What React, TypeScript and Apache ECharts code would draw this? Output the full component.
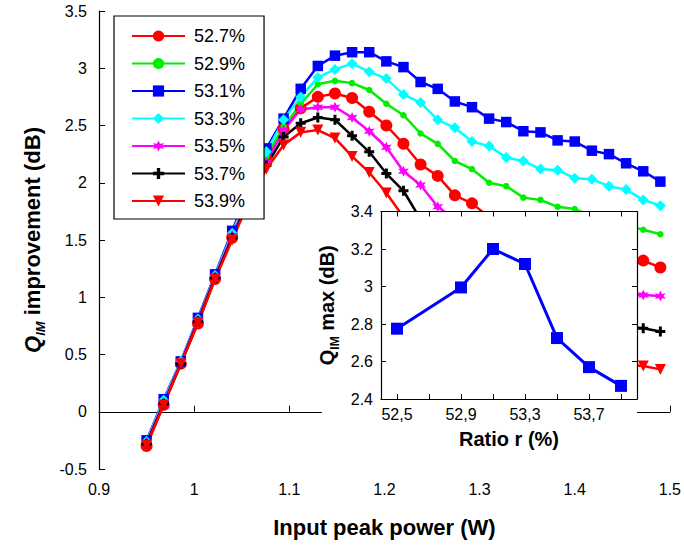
import React, { useEffect, useRef } from "react";
import * as echarts from "echarts";

// ---------- data ----------
const powerW = [
  0.95, 0.968, 0.986, 1.004, 1.022, 1.04, 1.058, 1.076, 1.094, 1.112, 1.13,
  1.148, 1.166, 1.184, 1.202, 1.22, 1.238, 1.256, 1.274, 1.292, 1.31, 1.328,
  1.346, 1.364, 1.382, 1.4, 1.418, 1.436, 1.454, 1.472, 1.49,
];

const seriesNames = ["52.7%", "52.9%", "53.1%", "53.3%", "53.5%", "53.7%", "53.9%"];

const r527 = [
  -0.3, 0.06, 0.42, 0.77, 1.16, 1.52, 1.89, 2.2, 2.47, 2.65, 2.75, 2.78, 2.74,
  2.62, 2.5, 2.34, 2.16, 2.06, 1.89, 1.82, 1.7, 1.66, 1.58, 1.54, 1.47, 1.44,
  1.4, 1.37, 1.34, 1.32, 1.26,
];
const r529 = [
  -0.27, 0.09, 0.43, 0.8, 1.18, 1.55, 1.91, 2.23, 2.49, 2.69, 2.86, 2.89, 2.87,
  2.81, 2.69, 2.59, 2.43, 2.34, 2.19, 2.12, 2.0, 1.97, 1.87, 1.85, 1.79, 1.77,
  1.71, 1.68, 1.63, 1.59, 1.55,
];
const r531 = [
  -0.25, 0.11, 0.44, 0.82, 1.2, 1.58, 1.95, 2.3, 2.56, 2.82, 3.02, 3.11, 3.14,
  3.14, 3.06, 3.01, 2.88, 2.82, 2.71, 2.66, 2.56, 2.53, 2.45, 2.44, 2.37, 2.36,
  2.28, 2.25, 2.17, 2.1, 2.01,
];
const r533 = [
  -0.26, 0.1, 0.44, 0.81, 1.19, 1.56, 1.93, 2.27, 2.55, 2.75, 2.92, 2.99, 3.04,
  2.97, 2.91, 2.77, 2.7, 2.55, 2.48, 2.36, 2.32, 2.22, 2.19, 2.12, 2.11, 2.04,
  2.03, 1.97, 1.94, 1.85, 1.8,
];
const r535 = [
  -0.27, 0.08, 0.43, 0.8, 1.18, 1.54, 1.88, 2.18, 2.46, 2.64, 2.66, 2.66, 2.57,
  2.45, 2.31, 2.1, 1.98, 1.79, 1.68, 1.6, 1.5, 1.44, 1.36, 1.3, 1.22, 1.17, 1.11,
  1.06, 1.03, 1.02, 1.01,
];
const r537 = [
  -0.28, 0.07, 0.42, 0.79, 1.17, 1.52, 1.86, 2.15, 2.4, 2.52, 2.57, 2.55, 2.41,
  2.27, 2.08, 1.93, 1.68, 1.58, 1.45, 1.37, 1.26, 1.19, 1.09, 1.03, 0.95, 0.9,
  0.83, 0.79, 0.74, 0.73, 0.7,
];
const r539 = [
  -0.29, 0.06, 0.42, 0.78, 1.16, 1.5, 1.84, 2.12, 2.33, 2.44, 2.46, 2.39, 2.23,
  2.09, 1.91, 1.7, 1.56, 1.42, 1.3, 1.18, 1.06, 0.96, 0.86, 0.78, 0.7, 0.62,
  0.55, 0.48, 0.41, 0.4, 0.37,
];

const mainYTicks = { min: -0.5, max: 3.5, step: 0.5 };
const mainXTicks = { min: 0.9, max: 1.5, step: 0.1 };

// inset
const insetRatio = [52.5, 52.9, 53.1, 53.3, 53.5, 53.7, 53.9];
const insetQmax = [2.775, 2.995, 3.2, 3.12, 2.725, 2.57, 2.47];
const insetTickLabels = [
  "52,4", "52,5", "52,6", "52,7", "52,8", "52,9", "53,0", "53,1", "53,2",
  "53,3", "53,4", "53,5", "53,6", "53,7", "53,8", "53,9", "54,0",
];
const insetY = { min: 2.4, max: 3.4, step: 0.2 };

// ---------- styling ----------
const FONT = "'Liberation Sans', Arial, Helvetica, sans-serif";
const STAR =
  "path://M5,0 L6.2,3 L9.3,2.5 L7.4,5 L9.3,7.5 L6.2,7 L5,10 L3.8,7 L0.7,7.5 L2.6,5 L0.7,2.5 L3.8,3 Z";
const PLUS = "path://M3.5,0 H6.5 V3.5 H10 V6.5 H6.5 V10 H3.5 V6.5 H0 V3.5 H3.5 Z";
const TRI_DOWN = "path://M0,0 L10,0 L5,9 Z";

const seriesStyles = [
  { color: "#ff0000", symbol: "circle", size: 12 },
  { color: "#00ee00", symbol: "circle", size: 6.5 },
  { color: "#0000ff", symbol: "rect", size: 10.5 },
  { color: "#00ffff", symbol: "diamond", size: 11 },
  { color: "#ff00ff", symbol: STAR, size: 11 },
  { color: "#000000", symbol: PLUS, size: 10 },
  { color: "#ff0000", symbol: TRI_DOWN, size: 11 },
];
const seriesValues = [r527, r529, r531, r533, r535, r537, r539];

const fmt1 = (v: number) => String(+Number(v).toFixed(1));

export default function App() {
  const ref = useRef<HTMLDivElement>(null);

  useEffect(() => {
    if (!ref.current) return;
    const chart = echarts.init(ref.current, undefined, { renderer: "svg" });

    const mainSeries = seriesValues.map((vals, k) => ({
      name: seriesNames[k],
      type: "line",
      xAxisIndex: 0,
      yAxisIndex: 0,
      data: powerW.map((x, i) => [x, vals[i]]),
      symbol: seriesStyles[k].symbol,
      symbolSize: seriesStyles[k].size,
      showAllSymbol: true,
      color: seriesStyles[k].color,
      itemStyle: { color: seriesStyles[k].color },
      lineStyle: { color: seriesStyles[k].color, width: 2.5 },
      z: 2,
      clip: false,
    }));

    const axisLineBlack = { show: true, lineStyle: { color: "#000", width: 1.2 } };
    const tickInside = { show: true, inside: true, length: 6, lineStyle: { color: "#000", width: 1 } };
    const labelStyle = { color: "#000", fontSize: 16, fontFamily: FONT };

    const option: any = {
      animation: false,
      backgroundColor: "#fff",
      textStyle: { fontFamily: FONT },
      legend: {
        orient: "vertical",
        left: 114,
        top: 16,
        data: seriesNames,
        itemWidth: 53,
        itemHeight: 14,
        itemGap: 9.5,
        padding: [11, 19, 9, 17],
        backgroundColor: "#fff",
        borderColor: "#000",
        borderWidth: 1.2,
        borderRadius: 0,
        textStyle: { color: "#000", fontSize: 18, fontFamily: FONT, padding: [0, 0, 0, 4], lineHeight: 18 },
        z: 20,
      },
      grid: [
        { left: 99, top: 11, width: 580, height: 458, containLabel: false },
        { left: 381, top: 211.5, width: 256, height: 187.5, containLabel: false },
      ],
      graphic: [
        {
          type: "rect",
          z: 5,
          silent: true,
          shape: { x: 322, y: 211.5, width: 315, height: 242 },
          style: { fill: "#fff" },
        },
      ],
      xAxis: [
        {
          type: "value",
          gridIndex: 0,
          min: mainXTicks.min,
          max: mainXTicks.max,
          interval: mainXTicks.step,
          axisLine: axisLineBlack,
          axisTick: tickInside,
          splitLine: { show: false },
          axisLabel: { ...labelStyle, margin: 12, formatter: fmt1 },
          name: "Input peak power (W)",
          nameLocation: "middle",
          nameGap: 47,
          nameTextStyle: { color: "#000", fontSize: 22, fontWeight: "bold", fontFamily: FONT },
        },
        {
          type: "category",
          gridIndex: 1,
          position: "bottom",
          data: insetTickLabels,
          boundaryGap: false,
          z: 12,
          axisLine: axisLineBlack,
          axisTick: { ...tickInside, length: 5, interval: (i: number) => i % 2 === 1 },
          axisLabel: {
            ...labelStyle,
            margin: 7,
            interval: (i: number) => i % 4 === 1,
          },
          splitLine: { show: false },
          name: "Ratio r (%)",
          nameLocation: "middle",
          nameGap: 30,
          nameTextStyle: { color: "#000", fontSize: 20, fontWeight: "bold", fontFamily: FONT },
        },
        {
          type: "category",
          gridIndex: 1,
          position: "top",
          data: insetTickLabels,
          boundaryGap: false,
          z: 12,
          axisLine: axisLineBlack,
          axisTick: { ...tickInside, length: 5, interval: (i: number) => i % 2 === 1 },
          axisLabel: { show: false },
          splitLine: { show: false },
        },
        {
          type: "value",
          gridIndex: 1,
          position: "bottom",
          min: 52.4,
          max: 54.0,
          show: false,
          splitLine: { show: false },
        },
      ],
      yAxis: [
        {
          type: "value",
          gridIndex: 0,
          min: mainYTicks.min,
          max: mainYTicks.max,
          interval: mainYTicks.step,
          axisLine: axisLineBlack,
          axisTick: tickInside,
          splitLine: { show: false },
          axisLabel: { ...labelStyle, margin: 12, formatter: fmt1 },
          name: "{q|Q}{s|IM}{n| improvement (dB)}",
          nameLocation: "middle",
          nameGap: 52,
          nameTextStyle: {
            color: "#000",
            fontFamily: FONT,
            rich: {
              q: { fontSize: 22, fontWeight: "bold", fontStyle: "italic", fontFamily: FONT, lineHeight: 30, color: "#000" },
              s: { fontSize: 13, fontWeight: "bold", fontStyle: "italic", fontFamily: FONT, lineHeight: 14, verticalAlign: "bottom", color: "#000" },
              n: { fontSize: 22, fontWeight: "bold", fontFamily: FONT, lineHeight: 30, color: "#000" },
            },
          },
        },
        {
          type: "value",
          gridIndex: 1,
          position: "left",
          min: insetY.min,
          max: insetY.max,
          interval: insetY.step,
          z: 12,
          axisLine: axisLineBlack,
          axisTick: { ...tickInside, length: 5 },
          splitLine: { show: false },
          axisLabel: { ...labelStyle, margin: 8, formatter: fmt1 },
          name: "{q|Q}{s|IM}{n| max (dB)}",
          nameLocation: "middle",
          nameGap: 40,
          nameTextStyle: {
            color: "#000",
            fontFamily: FONT,
            rich: {
              q: { fontSize: 20, fontWeight: "bold", fontFamily: FONT, lineHeight: 28, color: "#000" },
              s: { fontSize: 12, fontWeight: "bold", fontFamily: FONT, lineHeight: 13, verticalAlign: "bottom", color: "#000" },
              n: { fontSize: 20, fontWeight: "bold", fontFamily: FONT, lineHeight: 28, color: "#000" },
            },
          },
        },
        {
          type: "value",
          gridIndex: 1,
          position: "right",
          min: insetY.min,
          max: insetY.max,
          interval: insetY.step,
          z: 12,
          axisLine: axisLineBlack,
          axisTick: { ...tickInside, length: 5 },
          splitLine: { show: false },
          axisLabel: { show: false },
        },
      ],
      series: [
        ...mainSeries,
        {
          name: "inset",
          type: "line",
          xAxisIndex: 3,
          yAxisIndex: 1,
          data: insetRatio.map((x, i) => [x, insetQmax[i]]),
          symbol: "rect",
          symbolSize: 12,
          color: "#0000ff",
          itemStyle: { color: "#0000ff" },
          lineStyle: { color: "#0000ff", width: 3 },
          z: 14,
        },
      ],
    };

    chart.setOption(option);
    return () => chart.dispose();
  }, []);

  return (
    <div
      ref={ref}
      style={{ position: "fixed", left: 0, top: 0, width: 684, height: 545, background: "#fff" }}
    />
  );
}
